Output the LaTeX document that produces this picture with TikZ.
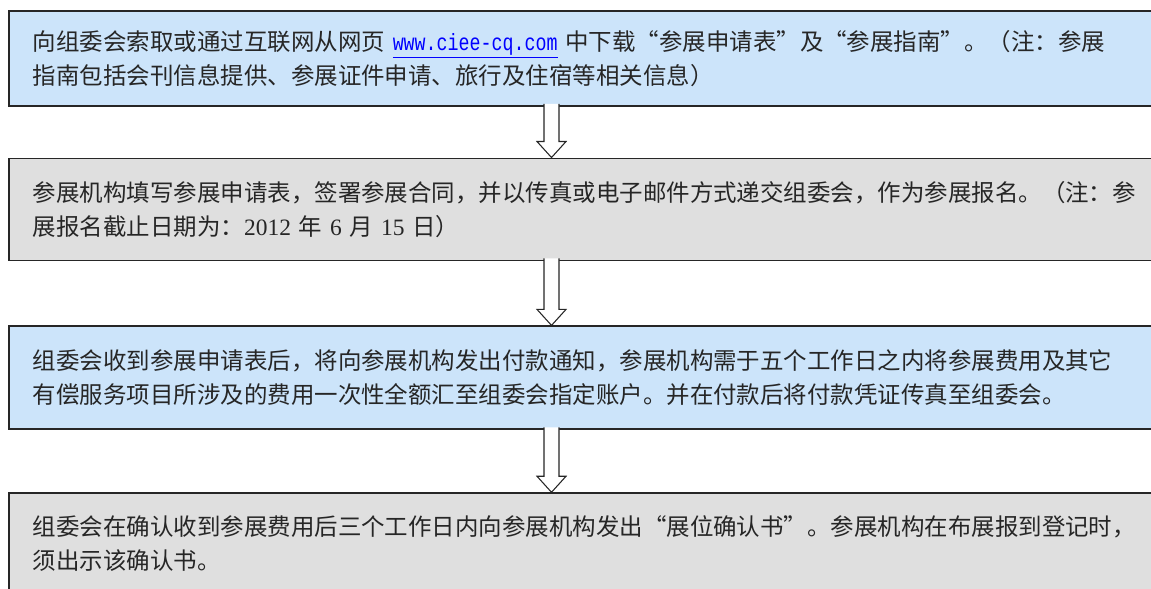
\documentclass[tikz,border=0pt]{standalone}
\usepackage{fontspec}
\setmainfont{Noto Sans CJK SC}
\newfontfamily\urlfont[FakeStretch=0.78]{Liberation Mono}
\newfontfamily\numfont{Liberation Serif}
\usetikzlibrary{positioning,calc}

\definecolor{applyblue}{RGB}{204,228,250}
\definecolor{applygray}{RGB}{223,223,223}
\definecolor{linkblue}{RGB}{0,0,255}

\tikzset{
  stepbox/.style={draw=black!85, line width=1.4pt, rectangle,
    inner xsep=18pt, inner ysep=0pt, text width=840pt, align=left,
    font=\fontsize{17.6pt}{25.5pt}\selectfont, text=black!85},
  hollowarrow/.style={draw=black!85, line width=0.8pt, fill=white, line join=miter}
}

\begin{document}
\begin{tikzpicture}[x=0.75pt, y=-0.75pt]
\useasboundingbox (0,0) rectangle (1151,588);

% the four steps
\node[stepbox, fill=applyblue, minimum height=71.25pt, anchor=north west] (box1) at (8,10)
  {向组委会索取或通过互联网从网页 {\urlfont\color{linkblue}\underline{www.ciee-cq.com}} 中下载“参展申请表”及“参展指南”。（注：参展\\
   指南包括会刊信息提供、参展证件申请、旅行及住宿等相关信息）};
\node[stepbox, fill=applygray, minimum height=76.5pt, below=38pt of box1] (box2)
  {参展机构填写参展申请表，签署参展合同，并以传真或电子邮件方式递交组委会，作为参展报名。（注：参\\
   展报名截止日期为：{\numfont 2012} 年 {\numfont 6} 月 {\numfont 15} 日）};
\node[stepbox, fill=applyblue, minimum height=77.25pt, below=48pt of box2] (box3)
  {组委会收到参展申请表后，将向参展机构发出付款通知，参展机构需于五个工作日之内将参展费用及其它\\
   有偿服务项目所涉及的费用一次性全额汇至组委会指定账户。并在付款后将付款凭证传真至组委会。};
\node[stepbox, fill=applygray, minimum height=75.75pt, below=46.5pt of box3] (box4)
  {组委会在确认收到参展费用后三个工作日内向参展机构发出“展位确认书”。参展机构在布展报到登记时，\\
   须出示该确认书。};

% hollow block arrows between the steps
\coordinate (axis) at (551.5,0);
\foreach \src/\dst in {box1/box2, box2/box3, box3/box4}
  \draw[hollowarrow] ($(axis |- \src.south)+(-7.5,-3)$)
    -- ($(axis |- \dst.north)+(-7.5,-16)$) -- ++(-7,0)
    -- (axis |- \dst.north)
    -- ($(axis |- \dst.north)+(14.5,-16)$) -- ++(-7,0)
    -- ($(axis |- \src.south)+(7.5,-3)$);

\end{tikzpicture}
\end{document}
